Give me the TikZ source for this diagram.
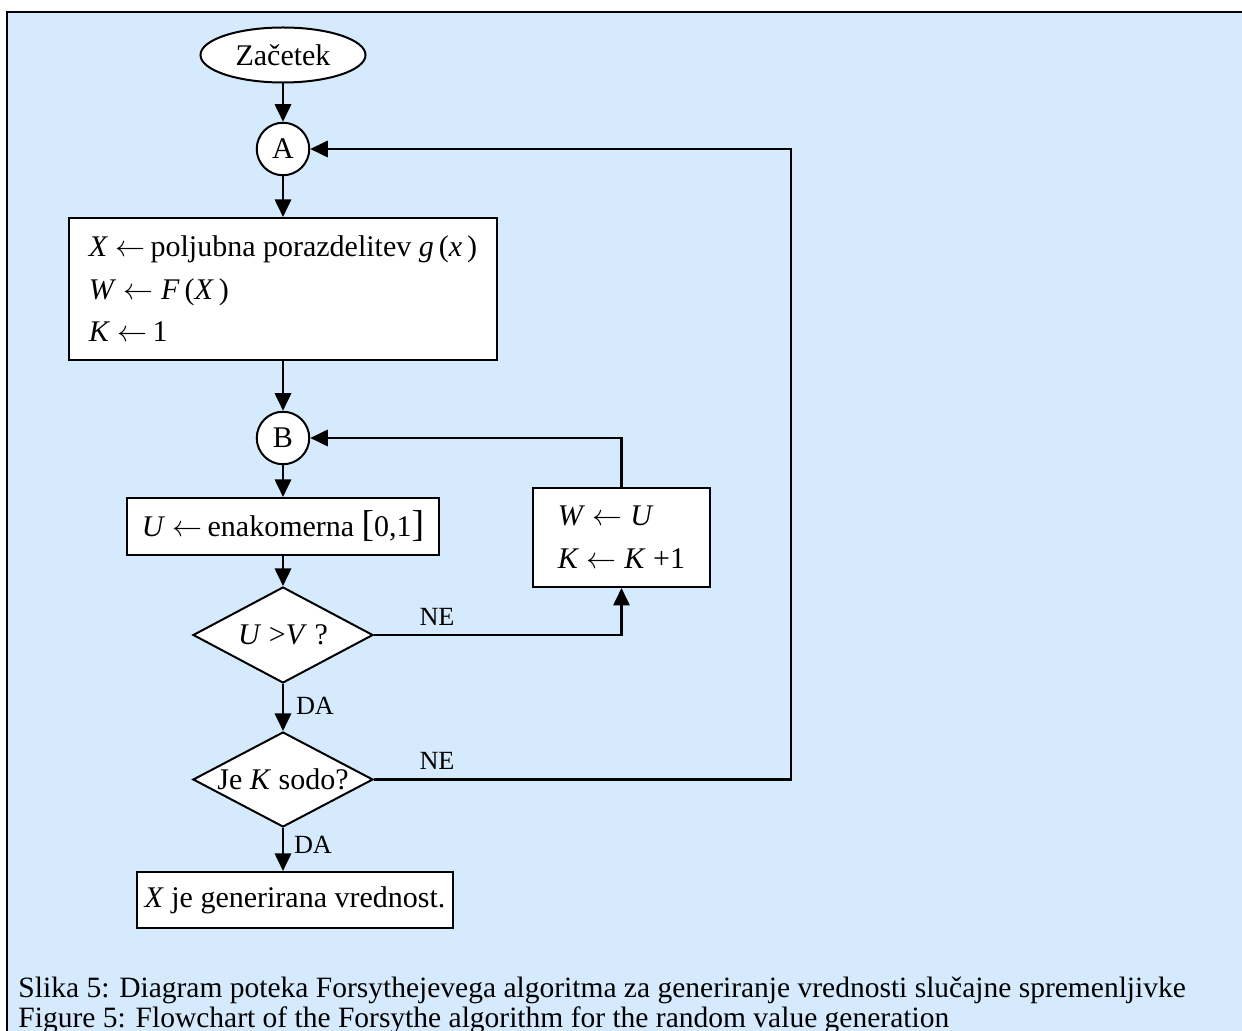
\documentclass[tikz,border=0pt]{standalone}
\usepackage{fontspec}
\setmainfont{Liberation Serif}
\usetikzlibrary{shapes.geometric,arrows.meta}
\definecolor{ozadje}{RGB}{214,234,254}
\newcommand{\lpusc}{$\leftarrow$}
\tikzset{
	zacetek/.style={ellipse, draw, fill=white, line width=0.8pt, minimum width=66pt, minimum height=22pt, inner sep=0pt},
	spoj/.style={circle, draw, fill=white, line width=0.8pt, minimum size=21pt, inner sep=0pt},
	korak/.style={rectangle, draw, fill=white, line width=0.8pt, inner sep=0pt},
	odlocitev/.style={diamond, draw, fill=white, line width=0.8pt, inner sep=0pt},
	puscica/.style={-{Triangle[length=7pt,width=6.5pt]}, line width=1pt},
	oznaka/.style={font=\fontsize{10.5}{12}\selectfont},
	napis/.style={anchor=west, inner sep=0pt, font=\fontsize{11.8}{14}\selectfont}
}
\begin{document}
\begin{tikzpicture}[x=0.4pt, y=-0.4pt, font=\fontsize{12}{14}\selectfont]
	\useasboundingbox (0,0) rectangle (1242,1031);
	% ozadje
	\fill[ozadje] (7,12) rectangle (1242,1031);
	\draw[line width=0.8pt] (7,1031) -- (7,12) -- (1242,12);
	% vozlisca
	\node[zacetek] (zac) at (283,55) {Začetek};
	\node[spoj] (A) at (283,149) {A};
	\node[korak, minimum width=170.8pt, minimum height=56.8pt, align=left, font=\fontsize{12}{17}\selectfont] (k1) at (283,289)
		{\textit{X} \lpusc\,poljubna porazdelitev \textit{g}\,(\textit{x}\,)\\ \textit{W} \lpusc\ \textit{F}\,(\textit{X}\,)\\ \textit{K} \lpusc\,1};
	\node[spoj] (B) at (283,438) {B};
	\node[korak, minimum width=124.4pt, minimum height=22.8pt] (kU) at (283,526.5)
		{\textit{U} \lpusc\,enakomerna {\fontsize{15}{15}\selectfont[}0,1{\fontsize{15}{15}\selectfont]}};
	\node[korak, minimum width=70.8pt, minimum height=39.6pt, align=left, font=\fontsize{12}{17.2}\selectfont] (kWK) at (621.5,537.5)
		{\textit{W} \lpusc\ \textit{U}\\ \textit{K} \lpusc\ \textit{K} +1};
	\node[odlocitev, minimum width=72pt, minimum height=38.4pt, label=center:{\textit{U} >\textit{V} ?}] (d1) at (283,635) {};
	\node[odlocitev, minimum width=72pt, minimum height=38pt, label=center:{Je \textit{K} sodo?}] (d2) at (283,779.5) {};
	\node[korak, minimum width=126.4pt, minimum height=22.4pt] (kon) at (295,900) {\textit{X} je generirana vrednost.};
	\coordinate (desno) at (791,149);
	% povezave
	\draw[puscica] (zac) -- (A);
	\draw[puscica] (A) -- (k1);
	\draw[puscica] (k1) -- (B);
	\draw[puscica] (B) -- (kU);
	\draw[puscica] (kU) -- (d1);
	\draw[puscica] (d1) -- (d2);
	\draw[puscica] (d2.south) -- (d2.south |- kon.north);
	\draw[puscica] (d1.east) -| (kWK.south);
	\draw[puscica] (kWK.north) |- (B.east);
	\draw[puscica] (d2.east) -| (desno) -- (A.east);
	% oznake
	\node[oznaka] (ne1) at (437,617) {NE};
	\node[oznaka] (ne2) at (437,761) {NE};
	\node[oznaka] (da1) at (315,706) {DA};
	\node[oznaka] (da2) at (313,845) {DA};
	% napis
	\node[napis] (nap1) at (18,990) {Slika 5: Diagram poteka Forsythejevega algoritma za generiranje vrednosti slučajne spremenljivke};
	\node[napis] (nap2) at (18,1020) {Figure 5: Flowchart of the Forsythe algorithm for the random value generation};
\end{tikzpicture}
\end{document}
